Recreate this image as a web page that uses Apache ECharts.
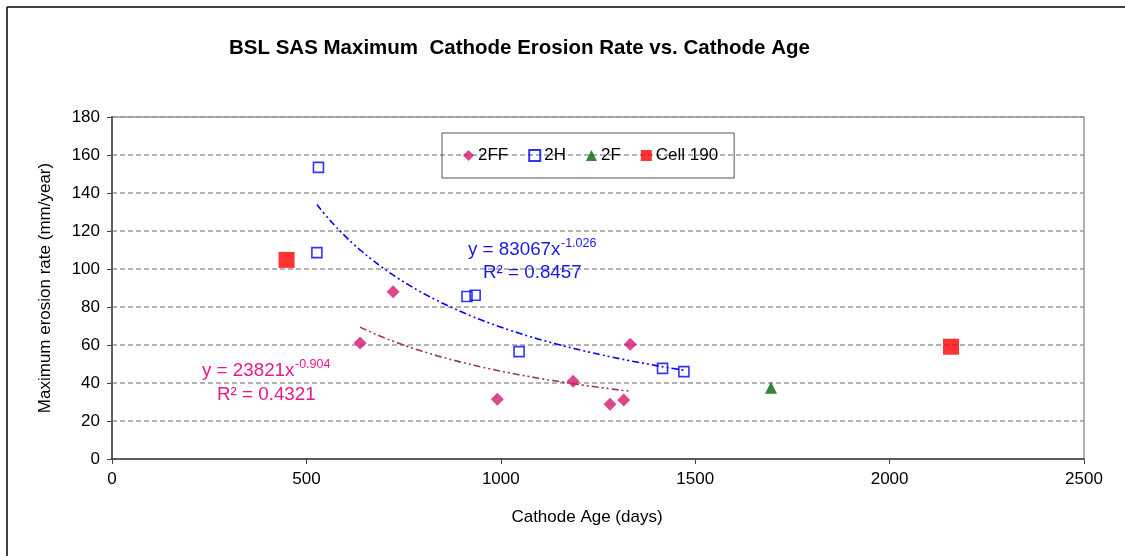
<!DOCTYPE html>
<html>
<head>
<meta charset="utf-8">
<script src="https://cdn.jsdelivr.net/npm/echarts@6/dist/echarts.min.js"></script>
<style>
html,body{margin:0;padding:0;background:#fff;}
#c{width:1125px;height:556px;}
</style>
</head>
<body>
<div id="c"></div>
<script>
// ---- data ----
const xTicks = [0, 500, 1000, 1500, 2000, 2500];
const yTicks = [0, 20, 40, 60, 80, 100, 120, 140, 160, 180];

const age2FF  = [638, 723, 991, 1186, 1281, 1316, 1333];
const rate2FF = [61, 88, 31.4, 40.9, 28.8, 31, 60.4];

const age2H  = [531, 527, 913, 934, 1047, 1416, 1471];
const rate2H = [153.5, 108.6, 85.5, 86.2, 56.5, 47.7, 46];

const age2F  = [1695];
const rate2F = [37.5];

const ageCell  = [449, 2158];
const rateCell = [104.8, 59.1];

// power trendlines as printed on the chart: y = a * x^b
const trend2H  = [83067, -1.026];   // R² = 0.8457
const trend2FF = [23821, -0.904];   // R² = 0.4321

function pairs(xs, ys){ return xs.map((x,i)=>[x, ys[i]]); }
function powerLine(coef, x0, x1){
  const pts = [];
  const n = 40;
  for(let i=0;i<=n;i++){
    const x = x0 + (x1-x0)*i/n;
    pts.push([x, coef[0]*Math.pow(x, coef[1])]);
  }
  return pts;
}

const FONT = 'Liberation Sans, Arial, sans-serif';
const chart = echarts.init(document.getElementById('c'), null, {renderer:'canvas'});

const option = {
  backgroundColor: '#fff',
  animation: false,
  title: {
    text: 'BSL SAS Maximum  Cathode Erosion Rate vs. Cathode Age',
    left: 224, top: 33,
    textStyle: {fontFamily: FONT, fontSize: 20.5, fontWeight: 'bold', color: '#000'}
  },
  legend: {
    left: 442, top: 133,
    padding: [14, 16, 14, 21],
    itemGap: 20,
    itemWidth: 11, itemHeight: 11,
    borderColor: '#555', borderWidth: 1,
    textStyle: {fontFamily: FONT, fontSize: 17, color: '#000', padding: [0,0,0,-1]},
    data: ['2FF', '2H', '2F', 'Cell 190']
  },
  grid: {
    left: 112, right: 41, top: 117, bottom: 97,
    show: true, borderColor: '#999', borderWidth: 1.5, backgroundColor: '#fff'
  },
  xAxis: {
    type: 'value', min: 0, max: 2500, interval: 500,
    name: 'Cathode Age (days)', nameLocation: 'middle', nameGap: 50,
    nameTextStyle: {fontFamily: FONT, fontSize: 17, color: '#000', padding: [0, 22, 0, 0]},
    axisLine: {show: true, onZero: false, lineStyle: {color: '#444', width: 1.5}},
    axisTick: {show: true, inside: false, length: 5, lineStyle: {color: '#444'}},
    axisLabel: {fontFamily: FONT, fontSize: 17, color: '#000', margin: 12,
      formatter: v => xTicks.includes(v) ? String(v) : ''},
    splitLine: {show: false}
  },
  yAxis: {
    type: 'value', min: 0, max: 180, interval: 20,
    name: 'Maximum erosion rate (mm/year)', nameLocation: 'middle', nameGap: 58,
    nameTextStyle: {fontFamily: FONT, fontSize: 17, color: '#000'},
    axisLine: {show: true, onZero: false, lineStyle: {color: '#444', width: 1.5}},
    axisTick: {show: true, inside: false, length: 5, lineStyle: {color: '#444'}},
    axisLabel: {fontFamily: FONT, fontSize: 17, color: '#000', margin: 12,
      formatter: v => yTicks.includes(v) ? String(v) : ''},
    splitLine: {show: true, lineStyle: {color: '#999', width: 1.5, type: [5, 3]}}
  },
  series: [
    {
      name: 'trend2H', type: 'line', data: powerLine(trend2H, 527, 1471),
      showSymbol: false, smooth: true, silent: true, z: 1,
      lineStyle: {color: '#0000FF', width: 1.6, type: [7, 3, 2, 3, 2, 3]}
    },
    {
      name: 'trend2FF', type: 'line', data: powerLine(trend2FF, 638, 1333),
      showSymbol: false, smooth: true, silent: true, z: 1,
      lineStyle: {color: '#993366', width: 1.6, type: [7, 3, 2, 3, 2, 3]}
    },
    {
      name: '2FF', type: 'scatter', data: pairs(age2FF, rate2FF),
      symbol: 'diamond', symbolSize: 13, z: 3,
      itemStyle: {color: '#D3186E'}
    },
    {
      name: '2H', type: 'scatter', data: pairs(age2H, rate2H),
      symbol: 'rect', symbolSize: 10, z: 3,
      itemStyle: {color: 'rgba(255,255,255,0)', borderColor: '#0000FF', borderWidth: 1.6}
    },
    {
      name: '2F', type: 'scatter', data: pairs(age2F, rate2F),
      symbol: 'triangle', symbolSize: 12, z: 3,
      itemStyle: {color: '#006600'}
    },
    {
      name: 'Cell 190', type: 'scatter', data: pairs(ageCell, rateCell),
      symbol: 'rect', symbolSize: 16, z: 3,
      itemStyle: {color: '#FF0000'}
    }
  ],
  graphic: [
    // outer frame (top and left edges)
    {type: 'line', shape: {x1: 7, y1: 7, x2: 1125, y2: 7}, style: {stroke: '#000', lineWidth: 1.5}, z: 10},
    {type: 'line', shape: {x1: 7, y1: 7, x2: 7, y2: 556}, style: {stroke: '#000', lineWidth: 1.5}, z: 10},
    // trendline equations
    {type: 'text', left: 468, top: 240, z: 10,
      style: {text: 'y = 83067x', fontFamily: FONT, fontSize: 18.8, fill: '#1A1AE6'}},
    {type: 'text', left: 561, top: 237, z: 10,
      style: {text: '-1.026', fontFamily: FONT, fontSize: 12.5, fill: '#1A1AE6'}},
    {type: 'text', left: 483, top: 263, z: 10,
      style: {text: 'R² = 0.8457', fontFamily: FONT, fontSize: 18.8, fill: '#1A1AE6'}},
    {type: 'text', left: 202, top: 361, z: 10,
      style: {text: 'y = 23821x', fontFamily: FONT, fontSize: 18.8, fill: '#E8198B'}},
    {type: 'text', left: 295, top: 358, z: 10,
      style: {text: '-0.904', fontFamily: FONT, fontSize: 12.5, fill: '#E8198B'}},
    {type: 'text', left: 217, top: 385, z: 10,
      style: {text: 'R² = 0.4321', fontFamily: FONT, fontSize: 18.8, fill: '#E8198B'}}
  ]
};
chart.setOption(option);
</script>
</body>
</html>
